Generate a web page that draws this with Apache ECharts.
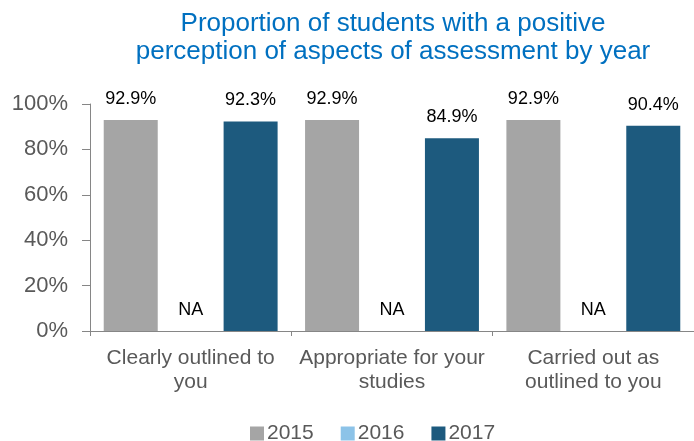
<!DOCTYPE html>
<html>
<head>
<meta charset="utf-8">
<script src="https://cdn.jsdelivr.net/npm/echarts@6/dist/echarts.min.js"></script>
<style>html,body{margin:0;padding:0;background:#fff}#c{width:694px;height:441px}</style>
</head>
<body>
<div id="c"></div>
<script>
const categories = ['Clearly outlined to\nyou', 'Appropriate for your\nstudies', 'Carried out as\noutlined to you'];
const seriesNames = ['2015', '2016', '2017'];
const values2015 = [92.9, 92.9, 92.9];
const values2016 = [0, 0, 0];
const labels2016 = ['NA', 'NA', 'NA'];
const values2017 = [92.3, 84.9, 90.4];
const yTicks = [0, 20, 40, 60, 80, 100];
const colors = ['#A5A5A5', '#8CC3E8', '#1D5A7E'];

const FONT = 'Liberation Sans, Arial, sans-serif';
const chart = echarts.init(document.getElementById('c'));
const labelBase = {show: true, position: 'top', distance: 12, color: '#000', fontSize: 18, fontFamily: FONT};
chart.setOption({
  animation: false,
  title: {
    text: 'Proportion of students with a positive\nperception of aspects of assessment by year',
    left: 388, top: 5, textAlign: 'center',
    textStyle: {color: '#0070C0', fontSize: 26, fontWeight: 'normal', lineHeight: 28, fontFamily: FONT}
  },
  legend: {
    data: seriesNames, left: 245, top: 418, itemWidth: 14, itemHeight: 14, itemGap: 27,
    icon: 'rect',
    textStyle: {color: '#595959', fontSize: 21, padding: [0, 0, 0, -2], fontFamily: FONT}
  },
  grid: {left: 90, right: 0, top: 104, bottom: 110, containLabel: false},
  xAxis: {
    type: 'category', data: categories,
    axisLine: {lineStyle: {color: '#868686', width: 1}},
    axisTick: {show: true, length: 5, lineStyle: {color: '#868686'}},
    axisLabel: {color: '#595959', fontSize: 21, lineHeight: 24, margin: 15, interval: 0, fontFamily: FONT}
  },
  yAxis: {
    type: 'value', min: yTicks[0], max: yTicks[yTicks.length - 1], interval: 20,
    axisLine: {show: true, lineStyle: {color: '#868686', width: 1}},
    axisTick: {show: true, inside: false, length: 8, lineStyle: {color: '#868686'}},
    splitLine: {show: false},
    axisLabel: {color: '#595959', fontSize: 22, margin: 22, formatter: v => v + '%', fontFamily: FONT}
  },
  series: [
    {name: seriesNames[0], type: 'bar', data: values2015, barWidth: 54, barGap: '11%', itemStyle: {color: colors[0]},
     label: Object.assign({}, labelBase, {formatter: p => p.value.toFixed(1) + '%'})},
    {name: seriesNames[1], type: 'bar', data: values2016, barWidth: 54, barGap: '11%', itemStyle: {color: colors[1]},
     label: Object.assign({}, labelBase, {formatter: p => labels2016[p.dataIndex]})},
    {name: seriesNames[2], type: 'bar', data: values2017, barWidth: 54, barGap: '11%', itemStyle: {color: colors[2]},
     label: Object.assign({}, labelBase, {formatter: p => p.value.toFixed(1) + '%'})}
  ]
});
</script>
</body>
</html>
